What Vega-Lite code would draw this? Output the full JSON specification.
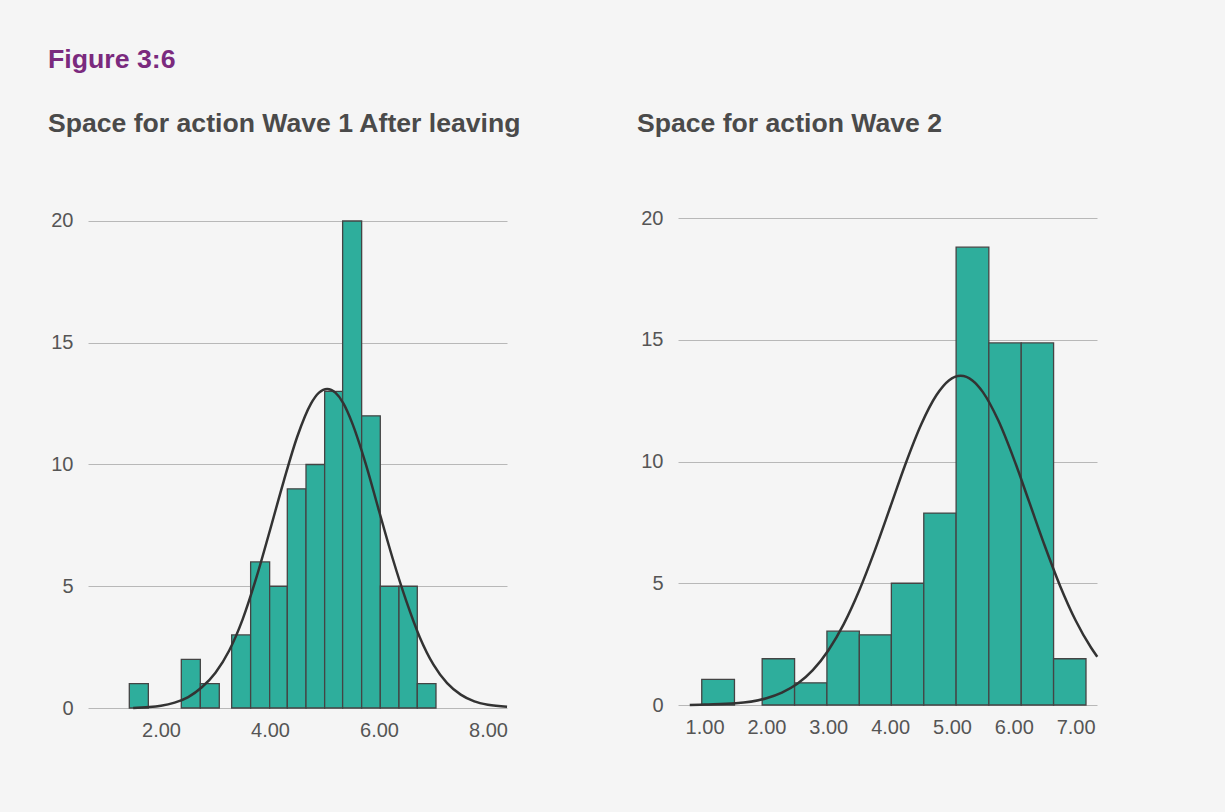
{
  "$schema": "https://vega.github.io/schema/vega-lite/v6.json",
  "background": "#f5f5f5",
  "padding": {"left": 48, "top": 46, "right": 130, "bottom": 80},
  "title": {"text": "Figure 3:6", "anchor": "start", "frame": "group", "dx": -40, "offset": 17, "baseline": "alphabetic", "fontSize": 26.7, "font": "Liberation Sans", "fontWeight": "bold", "color": "#7b2a7e"},
  "bounds": "flush",
  "spacing": 171,
  "datasets": {
    "w1bars": [
      {"x0": 1.419, "x1": 1.768, "count": 1},
      {"x0": 2.373, "x1": 2.722, "count": 2},
      {"x0": 2.722, "x1": 3.070, "count": 1},
      {"x0": 3.297, "x1": 3.645, "count": 3},
      {"x0": 3.645, "x1": 3.994, "count": 6},
      {"x0": 3.994, "x1": 4.318, "count": 5},
      {"x0": 4.318, "x1": 4.661, "count": 9},
      {"x0": 4.661, "x1": 5.003, "count": 10},
      {"x0": 5.003, "x1": 5.333, "count": 13},
      {"x0": 5.333, "x1": 5.682, "count": 20},
      {"x0": 5.682, "x1": 6.024, "count": 12},
      {"x0": 6.024, "x1": 6.367, "count": 5},
      {"x0": 6.367, "x1": 6.703, "count": 5},
      {"x0": 6.703, "x1": 7.046, "count": 1}
    ],
    "w1curve": [
      {"x": 1.49, "y": 0.0}, {"x": 2.0, "y": 0.09}, {"x": 2.25, "y": 0.22}, {"x": 2.5, "y": 0.45},
      {"x": 2.75, "y": 0.85}, {"x": 3.0, "y": 1.45}, {"x": 3.25, "y": 2.35}, {"x": 3.5, "y": 3.65},
      {"x": 3.75, "y": 5.35}, {"x": 4.0, "y": 7.3}, {"x": 4.25, "y": 9.3}, {"x": 4.5, "y": 11.14},
      {"x": 4.75, "y": 12.49}, {"x": 4.9, "y": 12.95}, {"x": 5.05, "y": 13.1}, {"x": 5.2, "y": 12.95},
      {"x": 5.35, "y": 12.5}, {"x": 5.5, "y": 11.75},
      {"x": 5.75, "y": 10.08}, {"x": 6.0, "y": 8.1}, {"x": 6.25, "y": 6.15}, {"x": 6.5, "y": 4.4},
      {"x": 6.75, "y": 2.9}, {"x": 7.0, "y": 1.78}, {"x": 7.25, "y": 1.02}, {"x": 7.5, "y": 0.55},
      {"x": 7.75, "y": 0.27}, {"x": 8.0, "y": 0.13}, {"x": 8.35, "y": 0.05}
    ],
    "w2bars": [
      {"x0": 0.954, "x1": 1.483, "count": 1.05},
      {"x0": 1.931, "x1": 2.455, "count": 1.9},
      {"x0": 2.455, "x1": 2.978, "count": 0.91},
      {"x0": 2.978, "x1": 3.502, "count": 3.03},
      {"x0": 3.502, "x1": 4.020, "count": 2.88},
      {"x0": 4.020, "x1": 4.544, "count": 5.0},
      {"x0": 4.544, "x1": 5.067, "count": 7.88},
      {"x0": 5.067, "x1": 5.596, "count": 18.8},
      {"x0": 5.596, "x1": 6.120, "count": 14.87},
      {"x0": 6.120, "x1": 6.643, "count": 14.87},
      {"x0": 6.643, "x1": 7.167, "count": 1.9}
    ],
    "w2curve": [
      {"x": 0.76, "y": 0.0}, {"x": 1.0, "y": 0.02}, {"x": 1.5, "y": 0.07}, {"x": 2.0, "y": 0.28},
      {"x": 2.25, "y": 0.51}, {"x": 2.5, "y": 0.87}, {"x": 2.75, "y": 1.43}, {"x": 3.0, "y": 2.24},
      {"x": 3.25, "y": 3.32}, {"x": 3.5, "y": 4.7}, {"x": 3.75, "y": 6.33}, {"x": 4.0, "y": 8.11},
      {"x": 4.25, "y": 9.91}, {"x": 4.5, "y": 11.51}, {"x": 4.75, "y": 12.73}, {"x": 4.95, "y": 13.33},
      {"x": 5.14, "y": 13.52}, {"x": 5.33, "y": 13.33}, {"x": 5.5, "y": 12.85}, {"x": 5.75, "y": 11.68}, {"x": 6.0, "y": 10.11},
      {"x": 6.25, "y": 8.33}, {"x": 6.5, "y": 6.54}, {"x": 6.75, "y": 4.88}, {"x": 7.0, "y": 3.47},
      {"x": 7.25, "y": 2.35}, {"x": 7.35, "y": 1.98}
    ]
  },
  "hconcat": [
    {
      "width": 419,
      "height": 490,
      "title": {"text": "Space for action Wave 1 After leaving", "anchor": "start", "frame": "group", "dx": -40, "offset": 52, "baseline": "alphabetic"},
      "layer": [
        {
          "data": {"name": "w1bars"},
          "mark": {"type": "bar", "fill": "#2eae9c", "stroke": "#444444", "strokeWidth": 1.3},
          "encoding": {
            "x": {"field": "x0", "type": "quantitative", "scale": {"domain": [0.661, 8.349], "nice": false, "zero": false},
                  "axis": {"values": [2, 4, 6, 8], "format": ".2f", "grid": false, "domain": false, "ticks": false, "labelPadding": 12, "title": null}},
            "x2": {"field": "x1"},
            "y": {"field": "count", "type": "quantitative", "scale": {"domain": [0, 20.123], "nice": false},
                  "axis": {"values": [0, 5, 10, 15, 20], "format": "d", "grid": true, "domain": false, "ticks": false, "labelPadding": 15, "title": null}},
            "y2": {"datum": 0}
          }
        },
        {
          "data": {"name": "w1curve"},
          "mark": {"type": "line", "stroke": "#333333", "strokeWidth": 2.5, "interpolate": "monotone"},
          "encoding": {
            "x": {"field": "x", "type": "quantitative"},
            "y": {"field": "y", "type": "quantitative"}
          }
        }
      ]
    },
    {
      "width": 419,
      "height": 487,
      "title": {"text": "Space for action Wave 2", "anchor": "start", "frame": "group", "dx": -41, "offset": 49, "baseline": "alphabetic"},
      "layer": [
        {
          "data": {"name": "w2bars"},
          "mark": {"type": "bar", "fill": "#2eae9c", "stroke": "#444444", "strokeWidth": 1.3},
          "encoding": {
            "x": {"field": "x0", "type": "quantitative", "scale": {"domain": [0.57, 7.345], "nice": false, "zero": false},
                  "axis": {"values": [1, 2, 3, 4, 5, 6, 7], "format": ".2f", "grid": false, "domain": false, "ticks": false, "labelPadding": 12, "title": null}},
            "x2": {"field": "x1"},
            "y": {"field": "count", "type": "quantitative", "scale": {"domain": [0, 20], "nice": false},
                  "axis": {"values": [0, 5, 10, 15, 20], "format": "d", "grid": true, "domain": false, "ticks": false, "labelPadding": 15, "title": null}},
            "y2": {"datum": 0}
          }
        },
        {
          "data": {"name": "w2curve"},
          "mark": {"type": "line", "stroke": "#333333", "strokeWidth": 2.5, "interpolate": "monotone"},
          "encoding": {
            "x": {"field": "x", "type": "quantitative"},
            "y": {"field": "y", "type": "quantitative"}
          }
        }
      ]
    }
  ],
  "config": {
    "view": {"stroke": null},
    "axis": {"labelFont": "Liberation Sans", "labelFontSize": 20, "labelColor": "#555555", "gridColor": "#b8b8b8", "gridWidth": 1},
    "title": {"font": "Liberation Sans", "fontSize": 26.6, "fontWeight": "bold", "color": "#4a4a4a"}
  }
}
